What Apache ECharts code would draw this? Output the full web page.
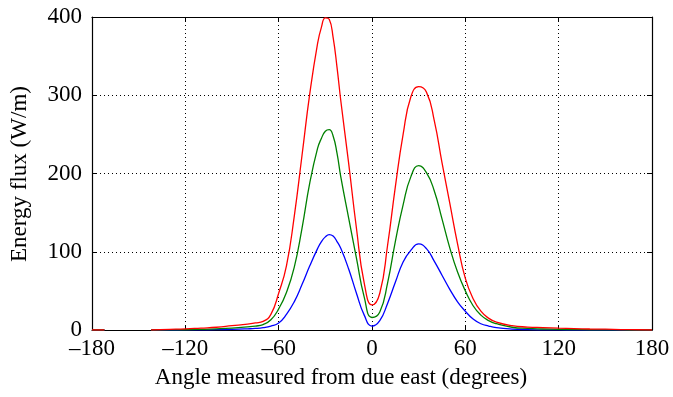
<!DOCTYPE html>
<html>
<head>
<meta charset="utf-8">
<script src="https://cdn.jsdelivr.net/npm/echarts@6/dist/echarts.min.js"></script>
<style>
html,body{margin:0;padding:0;background:#fff;}
#chart{width:673px;height:397px;}
</style>
</head>
<body>
<div id="chart"></div>
<script>
// Angle (degrees) sample points
const angles = [-180,-172,-160,-142,-130,-120,-110,-100,-90,-80,-75,-70,-65,-60,-55,-50,-45,-40,-35,-32.5,-30,-27.5,-25,-22.5,-20,-15,-10,-5,0,5,10,15,20,25,30,35,40,45,50,55,60,65,70,75,80,90,100,110,120,130,140,150,160,170,180];
// Energy flux (W/m)
const redFlux = [0,0,null,0,0.8,1.5,2.5,3.5,5.5,7.5,9,11,20,47,82,145,223,302,366,387,399,397,374,336,292,213,130,60,32,47,108,183,250,298,311,304,268,214,162,110,66,40,24,15,10,5.5,3.8,3,2.3,1.8,1.3,1,0.6,0.3,0];
const greenFlux = [0,0,null,0,0.1,0.3,0.8,1.5,2.5,4,5,7,13,27,48,80,130,188,232,245,254,256,248,226,195,143,92,42,16,23,60,113,160,196,210,201,178,142,105,74,50,31,19,12,8,3.5,2,1.3,0.8,0.5,0.3,0.2,0.1,0,0];
const blueFlux = [0,0,null,0,0,0.1,0.2,0.4,0.8,1.5,2,3,5,9,20,36,58,82,104,113,119,122,120,113,104,78,47,19,5,12,34,61,87,102,110,104,88,70,52,36,24,14,8,5,3,1.2,0.5,0.2,0.1,0,0,0,0,0,0];
const xTicks = [-180,-120,-60,0,60,120,180];
const yTicks = [0,100,200,300,400];
const xTitle = 'Angle measured from due east (degrees)';
const yTitle = 'Energy flux (W/m)';

const FONT = 'Liberation Serif';
const pairs = arr => angles.map((a, i) => [a, arr[i]]);

const chart = echarts.init(document.getElementById('chart'), null, {renderer: 'canvas'});
const gridLine = {show: true, lineStyle: {color: '#000', width: 1, type: [1, 3]}};
const axisLine = {show: true, onZero: false, lineStyle: {color: '#000', width: 1.2}};
const tick = {show: true, inside: true, length: 5, lineStyle: {color: '#000'}};

chart.setOption({
  animation: false,
  backgroundColor: '#fff',
  grid: {left: 92, right: 21, top: 17, bottom: 67, containLabel: false},
  xAxis: [{
    type: 'value', min: xTicks[0], max: xTicks[xTicks.length - 1], interval: 60,
    axisLine: axisLine, axisTick: tick, splitLine: gridLine,
    axisLabel: {color: '#000', fontFamily: FONT, fontSize: 23, margin: 7,
      formatter: v => String(v).replace('-', '\u2013')}
  }, {
    type: 'value', position: 'top', min: xTicks[0], max: xTicks[xTicks.length - 1], interval: 60,
    axisLine: axisLine, axisTick: tick, splitLine: {show: false}, axisLabel: {show: false}
  }],
  yAxis: [{
    type: 'value', position: 'left', min: yTicks[0], max: yTicks[yTicks.length - 1], interval: 100,
    axisLine: axisLine, axisTick: tick, splitLine: gridLine,
    axisLabel: {color: '#000', fontFamily: FONT, fontSize: 23, margin: 10}
  }, {
    type: 'value', position: 'right', min: yTicks[0], max: yTicks[yTicks.length - 1], interval: 100,
    axisLine: axisLine, axisTick: tick, splitLine: {show: false}, axisLabel: {show: false}
  }],
  graphic: [
    {type: 'text', x: 341, y: 378, style: {text: xTitle, fill: '#000', font: '23px "Liberation Serif"', textAlign: 'center', textVerticalAlign: 'middle'}},
    {type: 'text', x: 20, y: 174, rotation: Math.PI / 2, style: {text: yTitle, fill: '#000', font: '23px "Liberation Serif"', textAlign: 'center', textVerticalAlign: 'middle'}}
  ],
  series: [
    {type: 'line', name: 'blue', data: pairs(blueFlux), showSymbol: false, smooth: 0.5, connectNulls: false, lineStyle: {color: '#0000ff', width: 1.3}, z: 3},
    {type: 'line', name: 'green', data: pairs(greenFlux), showSymbol: false, smooth: 0.5, connectNulls: false, lineStyle: {color: '#008000', width: 1.3}, z: 4},
    {type: 'line', name: 'red', data: pairs(redFlux), showSymbol: false, smooth: 0.5, connectNulls: false, lineStyle: {color: '#ff0000', width: 1.3}, z: 5}
  ]
});
</script>
</body>
</html>
